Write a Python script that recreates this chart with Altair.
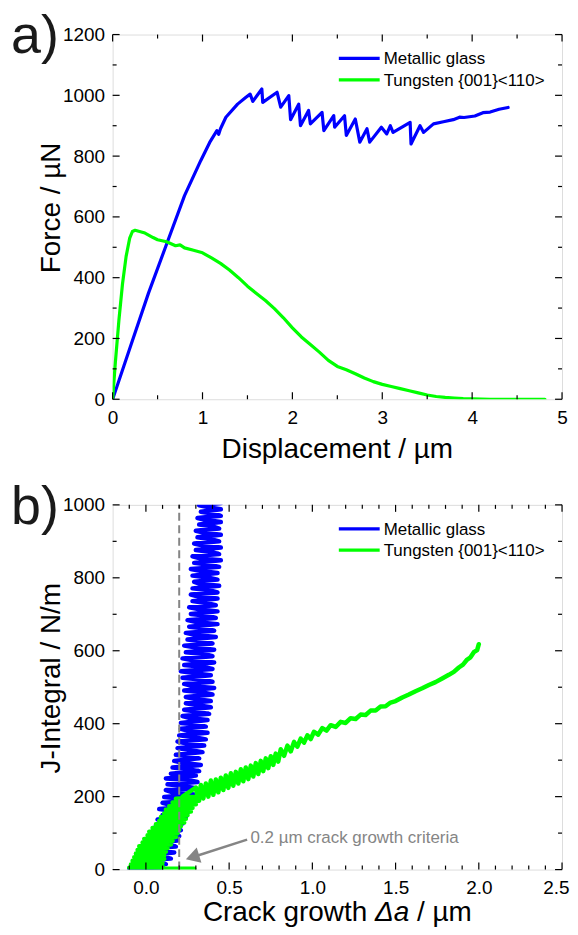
import altair as alt
import pandas as pd

FONT = "Liberation Sans"
SERIES = ["Metallic glass", "Tungsten {001}<110>"]
COLORS = ["#0000ff", "#00ff00"]
GRAY = "#858585"

# ---------------- panel a: force vs displacement ----------------
MG_A_X = [0, 0.2, 0.4, 0.6, 0.8, 0.98, 1.08, 1.16, 1.18, 1.2, 1.26, 1.39, 1.48, 1.53, 1.56,
          1.66, 1.67, 1.83, 1.87, 1.96, 1.98, 2.07, 2.09, 2.18, 2.2, 2.33, 2.35, 2.46, 2.47,
          2.58, 2.60, 2.70, 2.75, 2.83, 2.86, 2.99, 3.05, 3.09, 3.12, 3.31, 3.32, 3.42, 3.46,
          3.57, 3.68, 3.79, 3.86, 3.91, 4.03, 4.12, 4.2, 4.3, 4.4]
MG_A_F = [0, 175, 350, 510, 670, 785, 845, 884, 872, 890, 928, 971, 993, 1004, 980,
          1021, 977, 1010, 961, 999, 920, 971, 900, 950, 906, 944, 884, 933, 895,
          933, 868, 922, 846, 890, 846, 895, 873, 900, 878, 911, 840, 900, 878,
          906, 913, 920, 928, 927, 932, 943, 945, 954, 960]

W_A_X = [0, 0.03, 0.07, 0.11, 0.15, 0.19, 0.22, 0.25, 0.3, 0.35, 0.4, 0.45, 0.5, 0.6, 0.7, 0.75,
         0.8, 0.9, 1.0, 1.1, 1.2, 1.3, 1.4, 1.5, 1.6, 1.7, 1.8, 1.9, 2.0, 2.1, 2.2, 2.3, 2.4,
         2.5, 2.6, 2.7, 2.8, 2.9, 3.0, 3.1, 3.2, 3.3, 3.4, 3.5, 3.6, 3.7, 3.8, 3.9, 4.0, 4.2,
         4.5, 4.81]
W_A_F = [0, 120, 260, 380, 470, 530, 552, 556, 552, 548, 540, 532, 525, 518, 505, 508,
         498, 490, 482, 465, 447, 425, 400, 372, 348, 325, 298, 268, 235, 205, 180, 155, 128,
         108, 97, 84, 70, 58, 49, 42, 35, 28, 21, 14, 9, 6, 4, 2, 1, 0,
         0, 0]

# ---------------- panel b: J-integral vs crack growth ----------------
MG_B_DA = [-0.10, 0.10, -0.06, 0.12, 0.02, -0.03, 0.15, 0.08, -0.01, 0.17, 0.05, 0.00, 0.18,
           0.12, 0.03, 0.19, 0.06, 0.20, 0.14, 0.04, 0.21, 0.10, 0.06, 0.22, 0.16, 0.07, 0.24,
           0.10, 0.25, 0.18, 0.08, 0.26, 0.14, 0.10, 0.28, 0.20, 0.11, 0.29, 0.16, 0.12, 0.30,
           0.22, 0.13, 0.31, 0.25, 0.12, 0.30, 0.15, 0.32, 0.24, 0.16, 0.33, 0.22, 0.17, 0.32,
           0.26, 0.18, 0.34, 0.27, 0.19, 0.35, 0.24, 0.19, 0.36, 0.30, 0.20, 0.37, 0.26, 0.21,
           0.36, 0.31, 0.21, 0.37, 0.27, 0.22, 0.38, 0.30, 0.23, 0.39, 0.32, 0.24, 0.39, 0.29,
           0.24, 0.40, 0.34, 0.23, 0.41, 0.28, 0.23, 0.40, 0.33, 0.22, 0.39, 0.30, 0.21, 0.40,
           0.34, 0.23, 0.41, 0.29, 0.22, 0.40, 0.35, 0.24, 0.41, 0.31, 0.23, 0.40, 0.33, 0.25,
           0.42, 0.30, 0.24, 0.41, 0.36, 0.26, 0.43, 0.31, 0.25, 0.42, 0.37, 0.27, 0.43, 0.33,
           0.26, 0.42, 0.36, 0.28, 0.43, 0.32, 0.27, 0.43, 0.38, 0.28, 0.44, 0.33, 0.29, 0.43,
           0.37, 0.28, 0.43, 0.34, 0.27, 0.44, 0.38, 0.29, 0.45, 0.33, 0.28, 0.44, 0.39, 0.30,
           0.45, 0.35, 0.29, 0.44, 0.39, 0.31, 0.45, 0.36, 0.30, 0.44, 0.40, 0.32, 0.45, 0.37,
           0.31, 0.45, 0.40, 0.33, 0.45, 0.38, 0.32, 0.45, 0.36, 0.34]
MG_B_J = [3, 6, 12, 15, 22, 25, 30, 38, 40, 47, 52, 58, 63,
          70, 72, 80, 86, 92, 97, 103, 108, 116, 120, 126, 131, 137, 143,
          150, 156, 160, 166, 172, 178, 183, 188, 195, 199, 206, 212, 218, 223,
          229, 234, 240, 246, 250, 258, 263, 270, 276, 280, 287, 293, 298, 305,
          310, 315, 322, 327, 333, 340, 346, 351, 357, 362, 368, 375, 380, 386,
          392, 398, 402, 410, 415, 421, 427, 433, 438, 445, 450, 456, 462, 468,
          473, 480, 486, 491, 498, 503, 509, 515, 521, 526, 533, 538, 544, 550,
          556, 561, 568, 573, 579, 585, 591, 596, 603, 608, 614, 620, 626, 631,
          638, 643, 649, 655, 661, 666, 673, 678, 684, 690, 696, 701, 708, 713,
          719, 725, 731, 736, 743, 748, 754, 760, 766, 771, 778, 783, 789, 795,
          801, 806, 813, 818, 824, 830, 836, 841, 848, 853, 859, 865, 871, 876,
          883, 888, 894, 900, 906, 911, 918, 923, 929, 935, 941, 946, 953, 958,
          964, 970, 976, 981, 988, 993, 999, 1005, 1012, 1018]

W_B_DA = [0.29, 0.00, -0.10, 0.10, -0.09, 0.10, -0.08, 0.11, -0.07, 0.11, -0.06, 0.12, -0.05,
          0.13, -0.04, 0.15, -0.02, 0.16, -0.01, 0.18, 0.01, 0.19, 0.02, 0.20, 0.04, 0.21, 0.06,
          0.23, 0.08, 0.24, 0.09, 0.25, 0.11, 0.27, 0.12, 0.28, 0.14, 0.30, 0.16, 0.32, 0.18,
          0.34, 0.22,
          0.300, 0.315, 0.330, 0.345, 0.360, 0.375, 0.390, 0.405, 0.420, 0.435, 0.450, 0.465,
          0.480, 0.495, 0.510, 0.525, 0.540, 0.555, 0.570, 0.585, 0.600, 0.615, 0.630, 0.645,
          0.660, 0.675, 0.690, 0.705, 0.720, 0.735, 0.750, 0.765, 0.780, 0.795,
          0.81, 0.83, 0.85, 0.87, 0.89, 0.91, 0.93, 0.95, 0.97, 0.99,
          1.010, 1.035, 1.060, 1.085, 1.110, 1.140, 1.170, 1.200, 1.230, 1.260, 1.290, 1.320,
          1.350, 1.380, 1.410, 1.440, 1.470, 1.500, 1.540, 1.580, 1.620, 1.660, 1.700, 1.740,
          1.780, 1.820, 1.850, 1.880, 1.905, 1.930, 1.950, 1.970, 1.990, 2.000]
W_B_J = [2, 2, 5, 9, 14, 19, 24, 29, 34, 39, 44, 49, 54,
         59, 64, 69, 74, 79, 84, 89, 94, 99, 104, 109, 114, 119, 124,
         129, 134, 139, 144, 149, 154, 159, 164, 169, 174, 179, 184, 189, 194,
         198, 200,
         225, 188, 232, 195, 236, 200, 244, 205, 247, 212, 252, 218,
         258, 224, 264, 230, 268, 236, 275, 242, 280, 248, 285, 255,
         292, 262, 298, 270, 305, 278, 311, 287, 318, 296,
         330, 312, 340, 324, 350, 337, 359, 348, 368, 358,
         378, 370, 388, 381, 396, 391, 405, 402, 415, 413, 425, 424,
         436, 436, 447, 448, 458, 462, 472, 480, 489, 497, 506, 514,
         524, 534, 542, 554, 562, 576, 582, 596, 602, 618]

# criterion line and annotation (data units)
CRIT_X = 0.2
ARROW_TAIL = (0.608, 82)
ARROW_HEAD = (0.293, 36)
ANNOT_POS = (0.628, 72)
ANNOT_TEXT = "0.2 µm crack growth criteria"

# axes
A_X_MAJOR = [0, 1, 2, 3, 4, 5]
A_X_MINOR = [0.5, 1.5, 2.5, 3.5, 4.5]
A_Y_MAJOR = [0, 200, 400, 600, 800, 1000, 1200]
A_Y_MINOR = [100, 300, 500, 700, 900, 1100]
B_X_MAJOR = [0.0, 0.5, 1.0, 1.5, 2.0, 2.5]
B_X_MINOR = [-0.1, 0.1, 0.2, 0.3, 0.4, 0.6, 0.7, 0.8, 0.9, 1.1, 1.2, 1.3, 1.4,
             1.6, 1.7, 1.8, 1.9, 2.1, 2.2, 2.3, 2.4]
B_Y_MAJOR = [0, 200, 400, 600, 800, 1000]
B_Y_MINOR = [100, 300, 500, 700, 900]

W, H = 451, 366
MAJ, MINL = 7, 4


def lines_df(xs1, ys1, xs2, ys2):
    rows = []
    for i, (x, y) in enumerate(zip(xs1, ys1)):
        rows.append({"x": x, "y": y, "series": SERIES[0], "i": i})
    for i, (x, y) in enumerate(zip(xs2, ys2)):
        rows.append({"x": x, "y": y, "series": SERIES[1], "i": i})
    return pd.DataFrame(rows)


def panel(df, xdom, ydom, xmaj, xmin, ymaj, ymin, xfmt, label, xtitle_layers, ytitle,
          title_dy, lw=3.2, flush=False, extras=()):
    cscale = alt.Scale(domain=SERIES, range=COLORS)
    xs = alt.Scale(domain=xdom, nice=False, zero=False)
    ys = alt.Scale(domain=ydom, nice=False, zero=False)
    xkw = dict(labelFlush=1, labelFlushOffset=7) if flush else dict(labelFlush=False)
    xaxis = alt.Axis(values=xmaj, format=xfmt, title=None, grid=False, ticks=False, tickSize=0,
                     domain=False, labelFontSize=19, labelPadding=9, labelColor="black",
                     labelFont=FONT, **xkw)
    yaxis = alt.Axis(values=ymaj, format="d", title=None, grid=False, ticks=False, tickSize=0,
                     domain=False, labelFontSize=19, labelPadding=8, labelColor="black",
                     labelFont=FONT, labelFlush=False)
    X = lambda f: alt.X(f, scale=xs, axis=xaxis)
    Y = lambda f: alt.Y(f, scale=ys, axis=yaxis)
    ctx = {"X": X, "Y": Y}
    layers = []
    layers.append(
        alt.Chart(df).mark_line(strokeWidth=lw, clip=True, strokeJoin="round",
                                strokeCap="round").encode(
            x=X("x:Q"), y=Y("y:Q"),
            color=alt.Color("series:N", scale=cscale, legend=None),
            order="i:Q",
        )
    )
    for e in extras:
        layers.append(e(ctx))
    # inward ticks on all four sides
    for vals, ln in ((xmaj, MAJ), (xmin, MINL)):
        d = pd.DataFrame({"x": vals})
        layers.append(alt.Chart(d).mark_rule(color="black", strokeWidth=1.2).encode(
            x=X("x:Q"), y=alt.value(H), y2=alt.value(H - ln)))
        layers.append(alt.Chart(d).mark_rule(color="black", strokeWidth=1.2).encode(
            x=X("x:Q"), y=alt.value(0), y2=alt.value(ln)))
    for vals, ln in ((ymaj, MAJ), (ymin, MINL)):
        d = pd.DataFrame({"y": vals})
        layers.append(alt.Chart(d).mark_rule(color="black", strokeWidth=1.2).encode(
            y=Y("y:Q"), x=alt.value(0), x2=alt.value(ln)))
        layers.append(alt.Chart(d).mark_rule(color="black", strokeWidth=1.2).encode(
            y=Y("y:Q"), x=alt.value(W), x2=alt.value(W - ln)))
    # legend
    for k, s in enumerate(SERIES):
        ld = pd.DataFrame({"series": [s]})
        yrow = 24 + 21.5 * k
        layers.append(alt.Chart(ld).mark_rule(strokeWidth=3.2).encode(
            x=alt.value(227), x2=alt.value(268), y=alt.value(yrow),
            color=alt.Color("series:N", scale=cscale, legend=None)))
        layers.append(alt.Chart(ld).mark_text(align="left", baseline="middle", fontSize=17,
                                              font=FONT, color="black").encode(
            x=alt.value(272), y=alt.value(yrow + 1), text="series:N"))
    # panel label
    layers.append(alt.Chart(pd.DataFrame({"t": [label]})).mark_text(
        align="left", baseline="top", fontSize=54, font=FONT, color="#1a1a1a").encode(
        x=alt.value(-102), y=alt.value(-24), text="t:N"))
    # y title
    layers.append(alt.Chart(pd.DataFrame({"t": [ytitle]})).mark_text(
        align="center", baseline="alphabetic", fontSize=28, font=FONT, angle=270,
        color="black").encode(x=alt.value(-53), y=alt.value(174), text="t:N"))
    # x title pieces
    for txt, xpos, align, style in xtitle_layers:
        layers.append(alt.Chart(pd.DataFrame({"t": [txt]})).mark_text(
            align=align, baseline="alphabetic", fontSize=28, font=FONT, fontStyle=style,
            color="black").encode(x=alt.value(xpos), y=alt.value(H + title_dy), text="t:N"))
    return alt.layer(*layers).properties(width=W, height=H)


def crit_layers(c):
    d = pd.DataFrame({"x": [CRIT_X], "y": [0], "y2": [1000]})
    return alt.Chart(d).mark_rule(color=GRAY, strokeWidth=2, strokeDash=[8, 4.5]).encode(
        x=c["X"]("x:Q"), y=c["Y"]("y:Q"), y2="y2:Q")


def arrow_line(c):
    d = pd.DataFrame({"x": [ARROW_TAIL[0]], "y": [ARROW_TAIL[1]],
                      "x2": [ARROW_HEAD[0]], "y2": [ARROW_HEAD[1]]})
    return alt.Chart(d).mark_rule(color=GRAY, strokeWidth=2.5).encode(
        x=c["X"]("x:Q"), y=c["Y"]("y:Q"), x2="x2:Q", y2="y2:Q")


def arrow_head(c):
    d = pd.DataFrame({"x": [ARROW_HEAD[0]], "y": [ARROW_HEAD[1]]})
    return alt.Chart(d).mark_point(shape="triangle", filled=True, size=256, angle=253,
                                   color=GRAY, opacity=1).encode(
        x=c["X"]("x:Q"), y=c["Y"]("y:Q"))


def annot(c):
    d = pd.DataFrame({"x": [ANNOT_POS[0]], "y": [ANNOT_POS[1]], "t": [ANNOT_TEXT]})
    return alt.Chart(d).mark_text(align="left", baseline="alphabetic", fontSize=17, font=FONT,
                                  color=GRAY).encode(
        x=c["X"]("x:Q"), y=c["Y"]("y:Q"), text="t:N")


panel_a = panel(lines_df(MG_A_X, MG_A_F, W_A_X, W_A_F), [0, 5], [0, 1200],
                A_X_MAJOR, A_X_MINOR, A_Y_MAJOR, A_Y_MINOR, "d", "a)",
                [("Displacement / µm", W / 2, "center", "normal")], "Force / µN", 59)

panel_b = panel(lines_df(MG_B_DA, MG_B_J, W_B_DA, W_B_J), [-0.2, 2.5], [0, 1000],
                B_X_MAJOR, B_X_MINOR, B_Y_MAJOR, B_Y_MINOR, ".1f", "b)",
                [("Crack growth", 255.5, "right", "normal"),
                 ("Δa", 280.5, "center", "italic"),
                 ("/ µm", 305.4, "left", "normal")],
                "J-Integral / N/m", 52, lw=4.5, flush=True,
                extras=(crit_layers, arrow_line, arrow_head, annot))

chart = alt.vconcat(panel_a, panel_b, spacing=15).properties(
    padding={"left": 2, "top": 0, "right": 0, "bottom": 0},
    background="white",
).configure_view(stroke="black", strokeWidth=1.2).configure(font=FONT)

chart.save("out.html", embed_options={"renderer": "svg", "actions": False})
